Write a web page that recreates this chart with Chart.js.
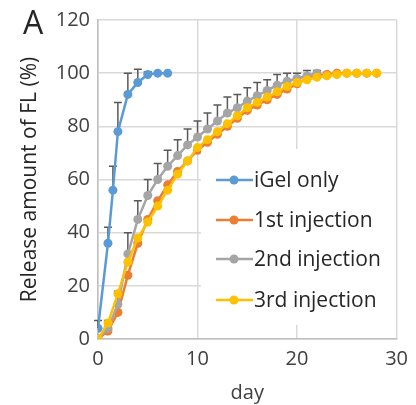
<!DOCTYPE html>
<html>
<head>
<meta charset="utf-8">
<script src="https://cdn.jsdelivr.net/npm/chart.js@4"></script>
<style>
  html, body { margin: 0; background: #fff; }
  #wrap { position: relative; width: 416px; height: 405px; }
  #panel { position: absolute; left: 23px; top: 0px; font: 32px 'Open Sans', sans-serif; color: #262626; }
</style>
</head>
<body>
<div id="wrap">
  <canvas id="chart" width="416" height="405"></canvas>
  <div id="panel">A</div>
</div>
<script>
// data
const igelDays = [0, 1, 1.5, 2, 3, 4, 5, 6, 7];
const igelVals = [4, 36, 56, 78, 92, 96.5, 99.5, 100, 100];
const igelErr  = [3, 6, 9, 11, 8, 5, 1, 0, 0];

const injDays = [0, 1, 2, 3, 4, 5, 6, 7, 8, 9, 10, 11, 12, 13, 14, 15, 16, 17, 18, 19, 20, 21, 22, 23, 24, 25, 26, 27, 28];
const firstVals  = [0, 3, 10, 24, 36, 45, 52, 58, 63, 67, 71, 74, 77, 80, 83, 86, 88, 90, 92, 94, 96, 98, 99, 99.5, 100, 100, 100, 100, 100];
const secondVals = [0, 4, 13, 32, 45, 54, 60, 65, 69, 73, 76, 79, 82, 85, 87, 89.5, 91.5, 93.5, 95.5, 97, 98, 99, 100];
const secondErr  = [0, 3, 5, 8, 7, 6, 6, 6, 6, 6, 6, 6, 6, 6, 5, 5, 5, 4, 4, 3, 2, 2, 1];
const thirdVals  = [0, 6, 17, 29, 38, 44, 50, 56, 62, 67, 72, 75, 78, 81, 84, 87, 89, 91, 93, 95, 96.5, 97.5, 98.5, 99, 99.5, 100, 100, 100, 100];

const seriesNames = ['iGel only', '1st injection', '2nd injection', '3rd injection'];
const colors = ['#5B9BD5', '#ED7D31', '#A5A5A5', '#FFC000'];

const pts = (xs, ys) => ys.map((y, i) => ({ x: xs[i], y: y }));

function series(i, xs, ys, order, errs) {
    return {
        label: seriesNames[i],
        data: pts(xs, ys),
        borderColor: colors[i],
        backgroundColor: colors[i],
        borderWidth: 2.5,
        pointRadius: 4.5,
        pointBorderWidth: 0,
        order: order,
        errors: errs || null
    };
}

// upward error bars with caps
const errorBars = {
    id: 'errorBars',
    beforeDatasetsDraw(chart) {
        const ctx = chart.ctx;
        const ys = chart.scales.y;
        ctx.save();
        ctx.strokeStyle = '#595959';
        ctx.lineWidth = 1.5;
        chart.data.datasets.forEach((ds, di) => {
            if (!ds.errors) return;
            const meta = chart.getDatasetMeta(di);
            meta.data.forEach((pt, i) => {
                const e = ds.errors[i];
                if (!e) return;
                const top = ys.getPixelForValue(ds.data[i].y + e);
                ctx.beginPath();
                ctx.moveTo(pt.x, pt.y);
                ctx.lineTo(pt.x, top);
                ctx.moveTo(pt.x - 4, top);
                ctx.lineTo(pt.x + 4, top);
                ctx.stroke();
            });
        });
        ctx.restore();
    }
};

// legend box drawn inside the plot area
const legendBox = {
    id: 'legendBox',
    afterDatasetsDraw(chart) {
        const ctx = chart.ctx;
        ctx.save();
        ctx.fillStyle = '#fff';
        ctx.fillRect(201, 149, 195, 176);
        const rows = [180, 220, 259, 300];
        chart.data.datasets.forEach((ds, i) => {
            const y = rows[i];
            ctx.strokeStyle = ds.borderColor;
            ctx.lineWidth = 2.5;
            ctx.beginPath();
            ctx.moveTo(216, y);
            ctx.lineTo(253, y);
            ctx.stroke();
            ctx.fillStyle = ds.borderColor;
            ctx.beginPath();
            ctx.arc(234, y, 4.5, 0, Math.PI * 2);
            ctx.fill();
            ctx.fillStyle = '#262626';
            ctx.font = '21px "Open Sans"';
            ctx.textBaseline = 'middle';
            ctx.fillText(ds.label, 254, y + 1);
        });
        ctx.restore();
    }
};

const tickFont = { family: 'Open Sans', size: 20 };

new Chart(document.getElementById('chart'), {
    type: 'line',
    data: {
        datasets: [
            series(0, igelDays, igelVals, 3, igelErr),
            series(1, injDays, firstVals, 2),
            series(2, injDays, secondVals, 1, secondErr),
            series(3, injDays, thirdVals, 0)
        ]
    },
    options: {
        responsive: false,
        animation: false,
        layout: { padding: { top: 20, right: 6, left: 17, bottom: 0 } },
        plugins: { legend: { display: false }, tooltip: { enabled: false } },
        scales: {
            x: {
                type: 'linear',
                min: 0, max: 30,
                afterFit: s => { s.height = 66; },
                ticks: { stepSize: 10, color: '#404040', font: tickFont, padding: 8 },
                grid: { color: '#d9d9d9', lineWidth: 1.5, drawTicks: false },
                border: { color: '#bfbfbf', width: 1.5 },
                title: { display: true, text: 'day', color: '#404040', font: tickFont, padding: { top: 0, bottom: 0 } }
            },
            y: {
                min: 0, max: 120,
                afterFit: s => { s.width = 81; },
                ticks: { stepSize: 20, color: '#404040', font: tickFont, padding: 8 },
                grid: { color: '#d9d9d9', lineWidth: 1.5, drawTicks: false },
                border: { color: '#bfbfbf', width: 1.5 },
                title: { display: true, text: 'Release amount of FL (%)', color: '#262626', font: { family: 'Open Sans', size: 21 }, padding: 0 }
            }
        }
    },
    plugins: [errorBars, legendBox]
});
</script>
</body>
</html>
